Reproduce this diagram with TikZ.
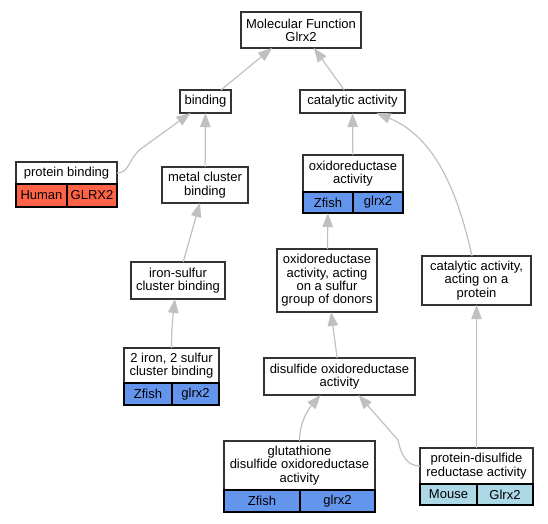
\documentclass[tikz,border=0pt]{standalone}
\usepackage{fontspec}
\setmainfont{Liberation Sans}
\usetikzlibrary{arrows.meta}

\definecolor{humanred}{HTML}{FF6347}
\definecolor{zfishblue}{HTML}{6495ED}
\definecolor{mouseblue}{HTML}{ADD8E6}
\definecolor{kantengrau}{HTML}{C0C0C0}
\definecolor{randgrau}{HTML}{333333}

\begin{document}
\begin{tikzpicture}[x=1pt, y=-1pt,
		term/.style={draw=randgrau, fill=white, line width=1.2pt, inner sep=0pt, outer sep=0pt, align=center, font=\fontsize{13}{13.3}\selectfont},
		zelle/.style={draw=black, line width=1.2pt, inner sep=0pt, outer sep=0pt, font=\fontsize{13}{13.3}\selectfont},
		kante/.style={draw=kantengrau, line width=1.2pt, -{Triangle[length=14pt, width=10.5pt]}}]
			\useasboundingbox (0,0) rectangle (548,523);

			% Begriffe zeichnen
			\node[term, minimum width=120pt, minimum height=36pt] (mf) at (301,30) {Molecular Function\\Glrx2};
			\node[term, minimum width=51pt, minimum height=23pt] (bind) at (205.5,101.5) {binding};
			\node[term, minimum width=105pt, minimum height=23pt] (cat) at (352.5,101.5) {catalytic activity};
			\node[term, minimum width=101pt, minimum height=22pt] (pb) at (66.5,173) {protein binding};
			\node[term, minimum width=86pt, minimum height=36pt] (metal) at (205,185) {metal cluster\\binding};
			\node[term, minimum width=100pt, minimum height=37pt] (oxa) at (353,173.5) {oxidoreductase\\activity};
			\node[term, minimum width=94pt, minimum height=37pt] (fes) at (178,280.5) {iron-sulfur\\cluster binding};
			\node[term, minimum width=100pt, minimum height=63pt] (oxs) at (327,280.5) {oxidoreductase\\activity, acting\\on a sulfur\\group of donors};
			\node[term, minimum width=109pt, minimum height=49pt] (catp) at (476.5,280.5) {catalytic activity,\\acting on a\\protein};
			\node[term, minimum width=95pt, minimum height=35pt] (fe2) at (171.5,365.5) {2 iron, 2 sulfur\\cluster binding};
			\node[term, minimum width=151pt, minimum height=37pt] (dis) at (339.5,376.5) {disulfide oxidoreductase\\activity};
			\node[term, minimum width=151pt, minimum height=49pt] (glu) at (299.5,465.5) {glutathione\\disulfide oxidoreductase\\activity};
			\node[term, minimum width=113pt, minimum height=36pt] (pdr) at (476.5,466) {protein-disulfide\\reductase activity};

			% Spezies und Gene
			\node[zelle, fill=humanred, anchor=north west, minimum width=51pt, minimum height=23pt] (pbA) at (pb.south west) {Human};
			\node[zelle, fill=humanred, anchor=north east, minimum width=50pt, minimum height=23pt] (pbB) at (pb.south east) {GLRX2};
			\node[zelle, fill=zfishblue, anchor=north west, minimum width=50pt, minimum height=21pt] (oxaA) at (oxa.south west) {Zfish};
			\node[zelle, fill=zfishblue, anchor=north east, minimum width=50pt, minimum height=21pt] (oxaB) at (oxa.south east) {glrx2};
			\node[zelle, fill=zfishblue, anchor=north west, minimum width=48pt, minimum height=22pt] (fe2A) at (fe2.south west) {Zfish};
			\node[zelle, fill=zfishblue, anchor=north east, minimum width=47pt, minimum height=22pt] (fe2B) at (fe2.south east) {glrx2};
			\node[zelle, fill=zfishblue, anchor=north west, minimum width=76pt, minimum height=22pt] (gluA) at (glu.south west) {Zfish};
			\node[zelle, fill=zfishblue, anchor=north east, minimum width=75pt, minimum height=22pt] (gluB) at (glu.south east) {glrx2};
			\node[zelle, fill=mouseblue, anchor=north west, minimum width=57pt, minimum height=21pt] (pdrA) at (pdr.south west) {Mouse};
			\node[zelle, fill=mouseblue, anchor=north east, minimum width=56pt, minimum height=21pt] (pdrB) at (pdr.south east) {Glrx2};

			% Kanten zeichnen
			\draw[kante] ([xshift=15.5pt]bind.north) -- ([xshift=-29pt]mf.south);
			\draw[kante] (cat) -- (mf);
			\draw[kante] (pb.east) .. controls (130,173) and (128,158) .. (142,148) -- ([xshift=-15pt]bind.south);
			\draw[kante] (metal) -- (bind);
			\draw[kante] (oxa) -- (cat);
			\draw[kante] (fes) -- (metal);
			\draw[kante] (oxs) -- (oxaA);
			\draw[kante] ([xshift=-4.5pt]catp.north) .. controls (455,180) and (430,135) .. ([xshift=24pt]cat.south);
			\draw[kante] (fe2.north) .. controls (171.5,330) and (173,315) .. ([xshift=-3pt]fes.south);
			\draw[kante] (dis) -- (oxs);
			\draw[kante] (pdr) -- (catp);
			\draw[kante] (glu.north) .. controls (299.5,425) and (306,412) .. ([xshift=-19pt]dis.south); % gebogen
			\draw[kante] (pdr.west) .. controls (407,466) and (401,455) .. (398,440) -- ([xshift=19pt]dis.south);
		\end{tikzpicture}
\end{document}
